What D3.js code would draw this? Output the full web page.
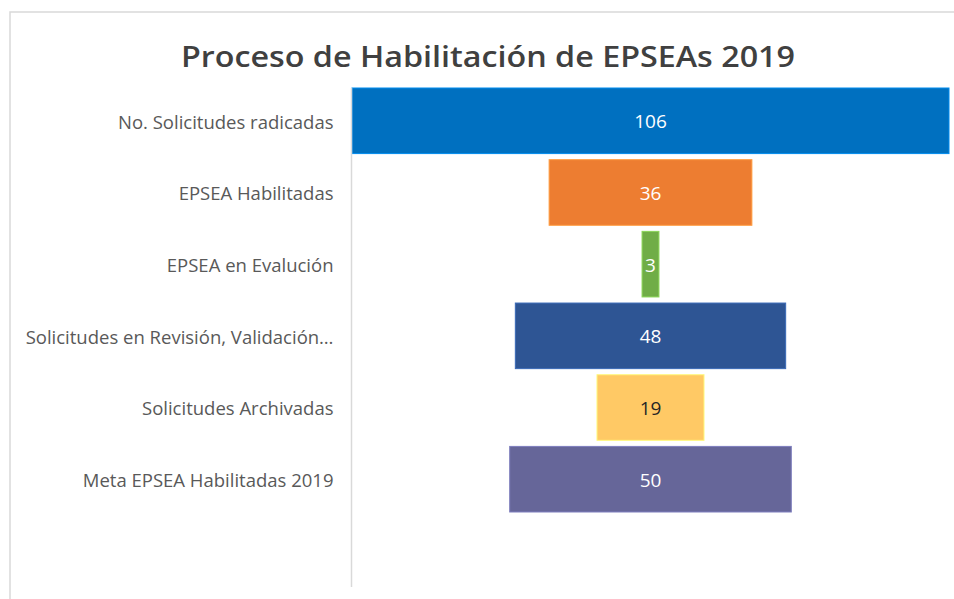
<!DOCTYPE html>
<html>
<head>
<meta charset="utf-8">
<script src="https://cdn.jsdelivr.net/npm/d3@7"></script>
<style>
  body { margin: 0; background: #fff; }
  svg { display: block; font-family: "Open Sans", sans-serif; }
</style>
</head>
<body>
<svg id="chart" width="954" height="599"></svg>
<script>
// funnel data
var categories = ['No. Solicitudes radicadas', 'EPSEA Habilitadas', 'EPSEA en Evalución',
  'Solicitudes en Revisión, Validación…', 'Solicitudes Archivadas', 'Meta EPSEA Habilitadas 2019'];
var values = [106, 36, 3, 48, 19, 50];
var colors = ['#0070c0', '#ed7d31', '#70ad47', '#2e5594', '#ffc965', '#666699'];
var labelColors = ['#fff', '#fff', '#fff', '#fff', '#262626', '#fff'];
var title = 'Proceso de Habilitación de EPSEAs 2019';

var svg = d3.select('#chart');
var plotLeft = 352, plotRight = 949, plotTop = 88, plotBottom = 587;
var center = (plotLeft + plotRight) / 2;

// chart frame
svg.append('rect').attr('x', 10).attr('y', 12).attr('width', 960).attr('height', 600)
  .style('fill', 'none').style('stroke', '#d9d9d9').style('stroke-width', 1.5);

svg.append('text').attr('x', 488).attr('y', 67).attr('text-anchor', 'middle')
  .style('font-size', '28px').style('font-weight', '600').style('fill', '#404040')
  .attr('textLength', 614).attr('lengthAdjust', 'spacingAndGlyphs')
  .text(title);

var y = d3.scaleBand().domain(categories).range([plotTop, 512]).paddingInner(0.085).paddingOuter(0);
var w = d3.scaleLinear().domain([0, d3.max(values)]).range([0, plotRight - plotLeft]);

var rows = categories.map(function(c, i) { return {cat: c, val: values[i], i: i}; });

svg.selectAll('rect.bar').data(rows).enter().append('rect').attr('class', 'bar')
  .attr('x', function(d) { return center - w(d.val) / 2; })
  .attr('y', function(d) { return y(d.cat); })
  .attr('width', function(d) { return w(d.val); })
  .attr('height', y.bandwidth())
  .style('fill', function(d) { return colors[d.i]; })
  .style('stroke', function(d) { return d3.color(colors[d.i]).brighter(0.6); })
  .style('stroke-width', 1);

svg.selectAll('text.val').data(rows).enter().append('text').attr('class', 'val')
  .attr('x', center)
  .attr('y', function(d) { return y(d.cat) + y.bandwidth() / 2 + 1; })
  .attr('dy', '0.35em').attr('text-anchor', 'middle')
  .style('font-size', '19px').style('fill', function(d) { return labelColors[d.i]; })
  .text(function(d) { return d.val; });

// category axis
var axis = d3.axisLeft(y).tickSize(0).tickPadding(18);
var g = svg.append('g').attr('transform', 'translate(' + (plotLeft - 0.5) + ',2)').call(axis);
g.select('.domain').remove();
g.selectAll('text').style('font-size', '18.5px').style('fill', '#595959').style('font-family', '"Open Sans", sans-serif');
svg.append('line').attr('x1', plotLeft - 0.5).attr('x2', plotLeft - 0.5)
  .attr('y1', plotTop).attr('y2', plotBottom)
  .style('stroke', '#d9d9d9').style('stroke-width', 1.5);
</script>
</body>
</html>
